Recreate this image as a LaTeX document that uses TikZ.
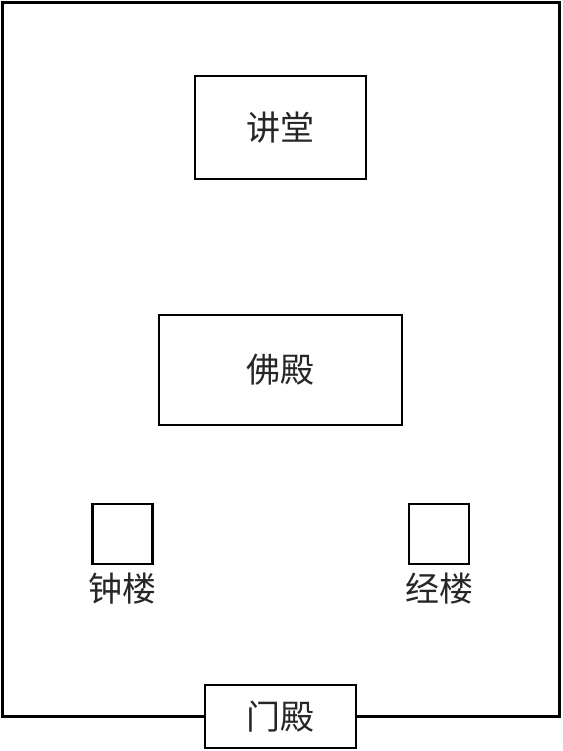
\documentclass[tikz,border=0pt]{standalone}
\usepackage{fontspec}
\newfontfamily\cjk{Noto Sans CJK SC}
\usepackage{tikz}
\usetikzlibrary{positioning}

\begin{document}
\begin{tikzpicture}[x=1pt,y=-1pt]
\tikzset{hall/.style={draw,line width=2.8pt,inner sep=0pt,text=black!85,font=\cjk\fontsize{34}{34}\selectfont},
         tower/.style={draw,line width=2.8pt,minimum size=60pt,inner sep=0pt},
         towername/.style={text=black!85,inner sep=0pt,font=\cjk\fontsize{34}{34}\selectfont}}
\useasboundingbox (0,0) rectangle (562,751);

\node[hall,minimum width=171pt,minimum height=103pt] (jiangtang) at (280.5,127.5) {讲堂};
\node[hall,minimum width=243pt,minimum height=110pt] (fodian) at (280.5,370) {佛殿};
\node[hall,minimum width=151pt,minimum height=63pt] (mendian) at (280.5,716.5) {门殿};
\node[tower] (zhonglou) at (122.5,534) {};
\node[tower] (jinglou) at (439,534) {};
\node[towername,below=7pt of zhonglou] (zhonglabel) {钟楼};
\node[towername,below=7pt of jinglou] (jinglabel) {经楼};

\coordinate (sw) at (2.5,716.5);
\coordinate (nw) at (2.5,2.5);
\coordinate (ne) at (559.5,2.5);
\coordinate (se) at (559.5,716.5);
\draw[line width=2.8pt] (mendian.west) -- (sw) -- (nw) -- (ne) -- (se) -- (mendian.east);
\end{tikzpicture}
\end{document}
